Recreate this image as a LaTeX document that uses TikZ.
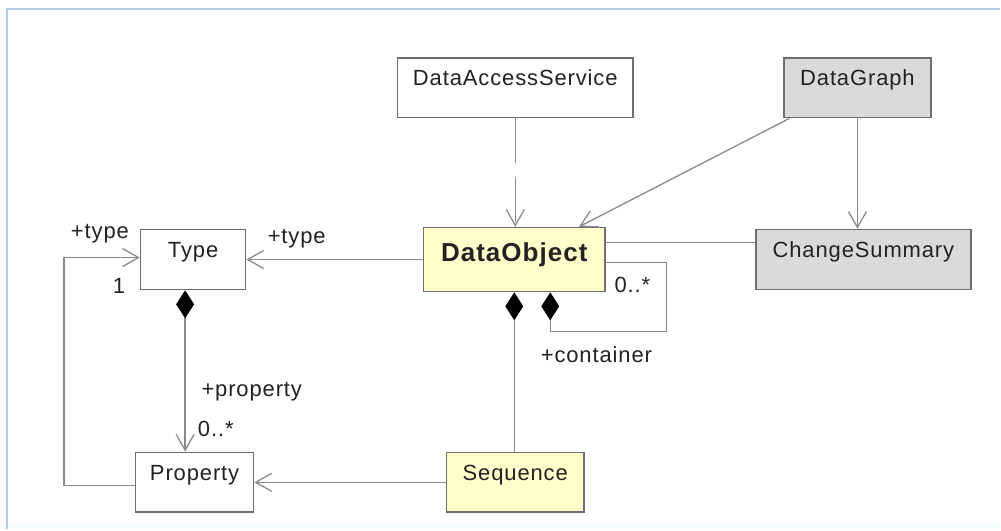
\documentclass[tikz,border=0pt]{standalone}
\usepackage{fontspec}
\setmainfont[LetterSpace=4]{Liberation Sans}
\usetikzlibrary{arrows.meta,calc}
\definecolor{frameblue}{HTML}{B4CAE6}
\definecolor{boxline}{HTML}{6E6E6E}
\definecolor{conline}{HTML}{8A8A8A}
\definecolor{objyellow}{HTML}{FFFFCC}
\definecolor{objgrey}{HTML}{D9DBDB}
\definecolor{txt}{HTML}{222222}
\tikzset{
  umlbox/.style={draw=boxline, line width=1.6pt, inner sep=0pt, anchor=north west,
    text height=28pt, text depth=#1, text=txt,
    font=\fontsize{22}{26}\selectfont},
  umlbox/.default=32pt,
  conn/.style={draw=conline, line width=1.3pt},
  openarrow/.style={-{Straight Barb[length=16pt,width=18pt,line width=1.3pt]}},
  comp/.style={{Diamond[length=28pt,width=18pt,fill=black,line width=0pt]}-},
  compopen/.style={{Diamond[length=28pt,width=18pt,fill=black,line width=0pt]}-{Straight Barb[length=16pt,width=18pt,line width=1.3pt]}},
  rolelabel/.style={inner sep=0pt, text=txt, font=\fontsize{22}{26}\selectfont},
}
\begin{document}
\begin{tikzpicture}[x=1pt,y=-1pt]
  % page and frame
  \fill[white] (0,0) rectangle (1001,530);
  \fill[cyan!4] (7,523) rectangle (1001,530);
  \draw[frameblue, line width=2pt] (1001,9) -- (7,9) -- (7,530);

  % classes
  \node[umlbox, minimum width=236pt, fill=white] (das) at (397,57) {DataAccessService};
  \node[umlbox, minimum width=147pt, fill=objgrey] (dg) at (784,57) {DataGraph};
  \node[umlbox, minimum width=215pt, fill=objgrey] (cs) at (756,229) {ChangeSummary};
  \node[umlbox=30pt, minimum width=182pt, fill=objyellow, text height=34pt,
        font=\fontsize{26}{30}\selectfont\bfseries] (do) at (423,227) {DataObject};
  \node[umlbox, minimum width=105pt, fill=white] (type) at (140,229) {Type};
  \node[umlbox, minimum width=118pt, fill=white] (prop) at (135,452) {Property};
  \node[umlbox, minimum width=138pt, fill=objyellow] (seq) at (446,452) {Sequence};

  % dependency from the access service
  \draw[conn, openarrow, dash pattern=on 45pt off 14pt] (das.south) -- (das.south |- do.north);

  % associations from the data graph
  \draw[conn, openarrow] ($(dg.south west)+(6,0)$) -- ($(do.north east)+(-27,0)$);
  \draw[conn, openarrow] (dg.south) -- (dg.south |- cs.north);
  \draw[conn] ($(do.north east)+(0,16)$) -- ($(cs.north west)+(0,14)$);

  % type associations
  \draw[conn, openarrow] (do.west) -- (type.east);
  \node[rolelabel] (ltype1) at (297,239) {+type};
  \draw[conn, openarrow] ($(prop.west)+(0,3)$) -- ++(-71,0) |- ($(type.west)+(0,-2)$);
  \node[rolelabel] (ltype2) at (100,234) {+type};
  \node[rolelabel] (lone) at (119,286) {1};

  % type owns its properties
  \coordinate (typefoot) at ($(type.south)+(-8,0)$);
  \draw[conn, compopen] (typefoot) -- (typefoot |- prop.north);
  \node[rolelabel] (lprop) at (252,392) {+property};
  \node[rolelabel] (lpropm) at (216,429) {0..*};

  % containment of data objects
  \draw[conn, comp] ($(do.south)+(36,0)$) |- (667,332) |- ($(do.north east)+(0,36)$);
  \node[rolelabel] (lcontm) at (633,285) {0..*};
  \node[rolelabel] (lcont) at (597,355) {+container};

  % sequence
  \draw[conn, comp] (do.south) -- (do.south |- seq.north);
  \draw[conn, openarrow] (seq.west) -- (prop.east);
\end{tikzpicture}
\end{document}
